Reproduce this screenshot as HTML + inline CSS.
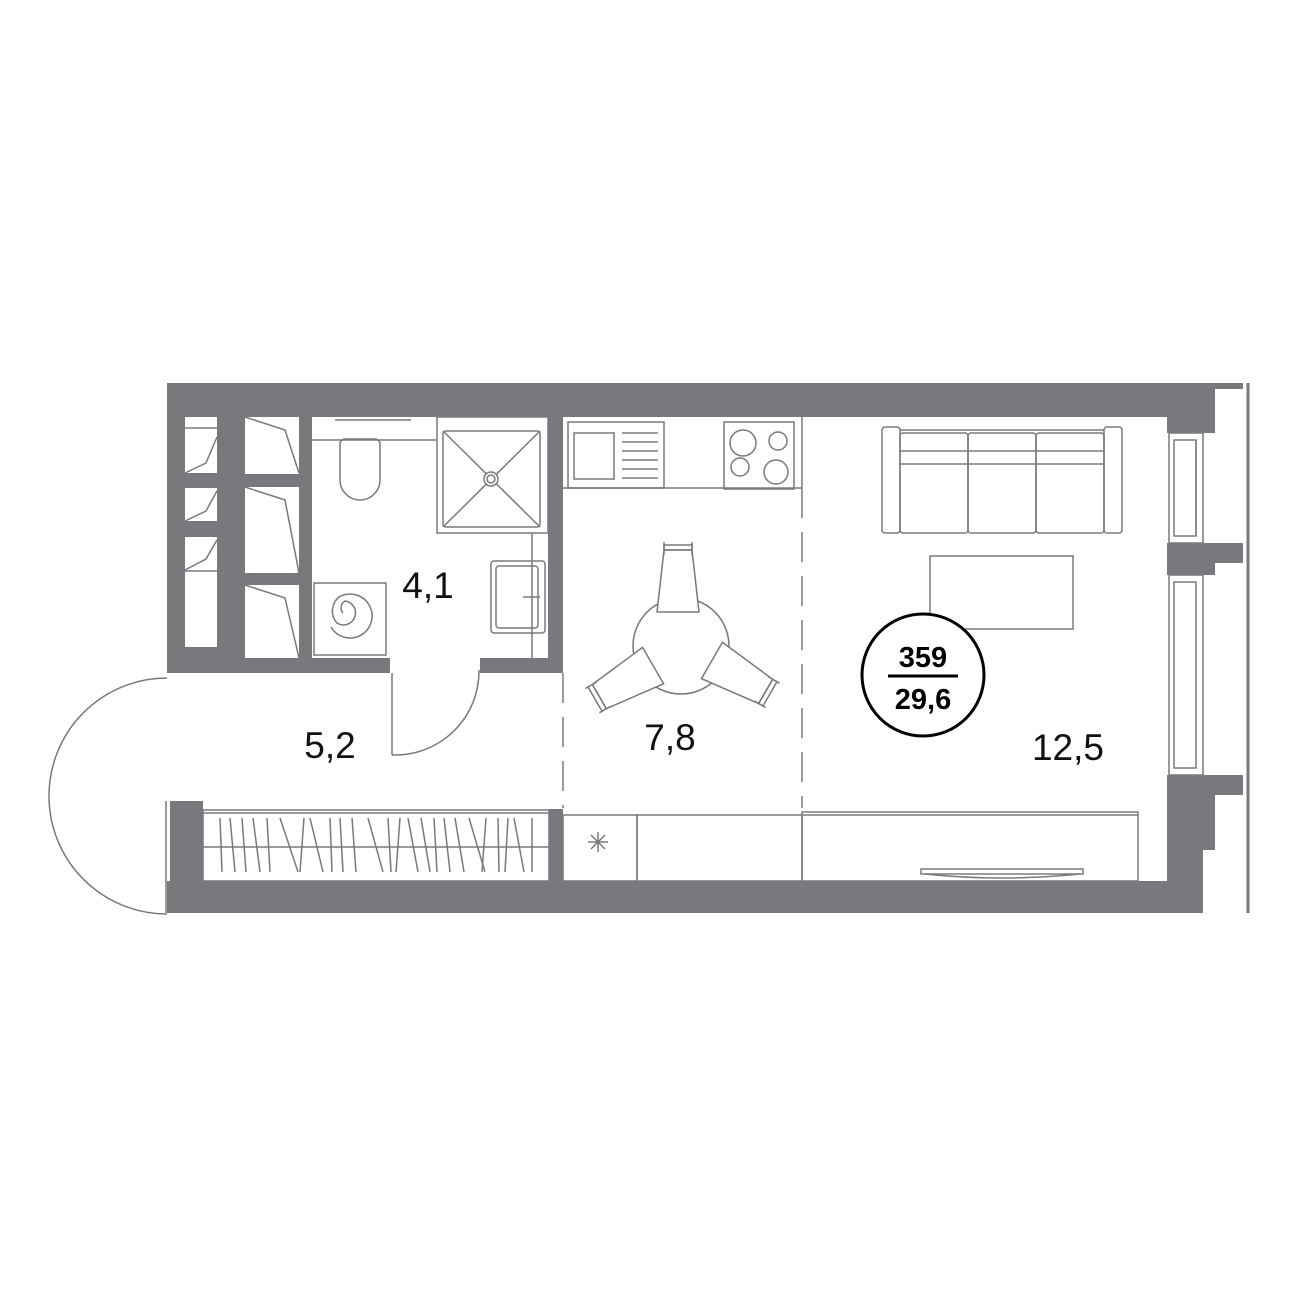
<!DOCTYPE html>
<html><head><style>html,body{margin:0;padding:0;background:#fff}svg{display:block}</style></head>
<body>
<svg width="1300" height="1300" viewBox="0 0 1300 1300" xmlns="http://www.w3.org/2000/svg" font-family="Liberation Sans, sans-serif">
<g fill="#7a787c">
<rect x="167" y="383" width="1048" height="34"/>
<rect x="1167" y="383" width="76" height="6"/>
<rect x="1167" y="383" width="48" height="50"/>
<rect x="167" y="383" width="396" height="290"/>
<rect x="1167" y="543" width="76" height="20"/>
<rect x="1167" y="543" width="48" height="32"/>
<rect x="1167" y="775" width="76" height="20"/>
<rect x="1167" y="775" width="48" height="75"/>
<rect x="1167" y="775" width="36" height="138"/>
<rect x="167" y="881" width="1036" height="32"/>
<rect x="170" y="801" width="33" height="112"/>
<rect x="549" y="809" width="14" height="72"/>
</g>
<g fill="#fff">
<rect x="185" y="417" width="32" height="56"/>
<rect x="185" y="488" width="32" height="33"/>
<rect x="185" y="537" width="32" height="110"/>
<rect x="245" y="417" width="54" height="57"/>
<rect x="245" y="487" width="54" height="86"/>
<rect x="245" y="585" width="54" height="73"/>
<rect x="312" y="417" width="236" height="241"/>
<rect x="390" y="655" width="90" height="20"/>
<rect x="563" y="417" width="604" height="464"/>
</g>
<g fill="none" stroke="#7a787c" stroke-width="1.5">
<line x1="185" y1="428" x2="217" y2="428"/>
<polyline points="185,473 206,463 217,437"/>
<polyline points="185,521 206,511 217,491"/>
<polyline points="185,570 206,559 217,540"/>
<line x1="185" y1="571" x2="217" y2="571"/>
<polyline points="245,417 285,430 299,473"/>
<polyline points="245,487 285,500 299,573"/>
<polyline points="245,585 285,598 299,658"/>
<line x1="335" y1="420" x2="411" y2="420"/>
<line x1="312" y1="440" x2="437" y2="440"/>
<rect x="437" y="417" width="111" height="116"/>
<rect x="443" y="431" width="97" height="96" rx="3"/>
<line x1="443" y1="431" x2="540" y2="527"/>
<line x1="540" y1="431" x2="443" y2="527"/>
<circle cx="491" cy="479" r="7" fill="#fff"/>
<circle cx="491" cy="479" r="4"/>
<path d="M340 444 V480 a20 20 0 0 0 40 0 V444 a5 5 0 0 0 -5 -5 H345 a5 5 0 0 0 -5 5z"/>
<rect x="314" y="583" width="72" height="72"/>
<path d="M331 627 a22 22 0 1 0 8 -30 a18 18 0 0 0 -2 26 a12 12 0 1 0 8 -22 a8 8 0 0 0 -2 12"/>
<rect x="491" y="561" width="54" height="72" rx="3"/>
<rect x="496" y="566" width="42" height="62" rx="3"/>
<line x1="523" y1="597" x2="540" y2="597"/>
<line x1="532" y1="533" x2="532" y2="658"/>
<line x1="392" y1="673" x2="392" y2="755"/>
<path d="M392 755 A84 84 0 0 0 479 670"/>
<path d="M167 678 A118 118 0 0 0 167 914"/>
<line x1="166" y1="801" x2="166" y2="913"/>
<rect x="203" y="810" width="346" height="71"/>
<line x1="203" y1="813" x2="549" y2="813"/>
<line x1="203" y1="847" x2="549" y2="847"/>
<line x1="563" y1="488" x2="802" y2="488"/>
<line x1="802" y1="417" x2="802" y2="488"/>
<rect x="568" y="422" width="96" height="66"/>
<rect x="574" y="433" width="40" height="46"/>
<line x1="622" y1="433" x2="658" y2="433"/><line x1="622" y1="442" x2="658" y2="442"/><line x1="622" y1="451" x2="658" y2="451"/><line x1="622" y1="460" x2="658" y2="460"/><line x1="622" y1="469" x2="658" y2="469"/><line x1="622" y1="478" x2="658" y2="478"/>
<rect x="724" y="422" width="70" height="67"/>
<circle cx="743" cy="443" r="13"/><circle cx="778" cy="441" r="9"/><circle cx="740" cy="467" r="9"/><circle cx="776" cy="472" r="12"/>
<line x1="802" y1="488" x2="802" y2="808" stroke-dasharray="30 14"/>
<line x1="563" y1="673" x2="563" y2="808" stroke-dasharray="30 14"/>
<circle cx="681" cy="646" r="48"/>
<g id="ch"><path d="M657 612 L664 550 H692 L699 612 Z" fill="#fff"/><rect x="664" y="545" width="28" height="5"/><line x1="664" y1="542" x2="664" y2="555"/><line x1="692" y1="542" x2="692" y2="555"/></g>
<g transform="rotate(120 681 646)"><path d="M657 612 L664 550 H692 L699 612 Z" fill="#fff"/><rect x="664" y="545" width="28" height="5"/><line x1="664" y1="542" x2="664" y2="555"/><line x1="692" y1="542" x2="692" y2="555"/></g>
<g transform="rotate(240 681 646)"><path d="M657 612 L664 550 H692 L699 612 Z" fill="#fff"/><rect x="664" y="545" width="28" height="5"/><line x1="664" y1="542" x2="664" y2="555"/><line x1="692" y1="542" x2="692" y2="555"/></g>
<rect x="563" y="815" width="74" height="66"/>
<rect x="637" y="815" width="165" height="66"/>
<path d="M598 832 V852 M588 842 H608 M591 835 L605 849 M605 835 L591 849"/>
<rect x="802" y="812" width="336" height="69"/>
<line x1="802" y1="815" x2="1138" y2="815"/>
<rect x="921" y="869" width="162" height="5"/>
<path d="M925 874 Q1000 882 1080 874"/>
<rect x="882" y="427" width="18" height="106" rx="3"/>
<rect x="1104" y="427" width="18" height="106" rx="3"/>
<line x1="900" y1="430" x2="1104" y2="430"/>
<rect x="900" y="433" width="68" height="100" rx="3"/>
<rect x="968" y="433" width="68" height="100" rx="3"/>
<rect x="1036" y="433" width="68" height="100" rx="3"/>
<line x1="900" y1="451" x2="1104" y2="451"/>
<line x1="900" y1="464" x2="1104" y2="464"/>
<rect x="930" y="556" width="143" height="73"/>
<rect x="1169" y="433" width="34" height="110"/>
<rect x="1174" y="440" width="22" height="96"/>
<line x1="1196" y1="440" x2="1196" y2="536"/>
<rect x="1169" y="575" width="34" height="200"/>
<rect x="1174" y="582" width="22" height="186"/>
<line x1="1248" y1="383" x2="1248" y2="913" stroke-width="3"/>
</g>
<g stroke="#7a787c" stroke-width="1.5">
<line x1="220" y1="818" x2="222" y2="872"/><line x1="230" y1="818" x2="235" y2="872"/><line x1="242" y1="818" x2="246" y2="872"/><line x1="253" y1="818" x2="260" y2="872"/><line x1="267" y1="818" x2="270" y2="872"/><line x1="280" y1="818" x2="298" y2="872"/><line x1="304" y1="818" x2="300" y2="872"/><line x1="310" y1="818" x2="323" y2="872"/><line x1="330" y1="818" x2="332" y2="872"/><line x1="340" y1="818" x2="343" y2="872"/><line x1="352" y1="818" x2="356" y2="872"/><line x1="368" y1="818" x2="383" y2="872"/><line x1="388" y1="818" x2="391" y2="872"/><line x1="400" y1="818" x2="396" y2="872"/><line x1="408" y1="818" x2="418" y2="872"/><line x1="421" y1="818" x2="430" y2="872"/><line x1="434" y1="818" x2="437" y2="872"/><line x1="444" y1="818" x2="450" y2="872"/><line x1="455" y1="818" x2="464" y2="872"/><line x1="469" y1="818" x2="485" y2="872"/><line x1="486" y1="818" x2="482" y2="872"/><line x1="498" y1="818" x2="499" y2="872"/><line x1="508" y1="818" x2="505" y2="872"/><line x1="514" y1="818" x2="524" y2="872"/><line x1="532" y1="818" x2="532" y2="872"/>
</g>
<g font-size="37" fill="#111">
<text x="428" y="598" text-anchor="middle">4,1</text>
<text x="330" y="758" text-anchor="middle">5,2</text>
<text x="670" y="750" text-anchor="middle">7,8</text>
<text x="1068" y="760" text-anchor="middle">12,5</text>
</g>
<circle cx="923" cy="675" r="61" fill="#fff" stroke="#000" stroke-width="3"/>
<line x1="888" y1="676" x2="958" y2="676" stroke="#000" stroke-width="3"/>
<g font-size="29" font-weight="bold" text-anchor="middle" fill="#000">
<text x="923" y="667">359</text>
<text x="923" y="709">29,6</text>
</g>
</svg>
</body></html>
